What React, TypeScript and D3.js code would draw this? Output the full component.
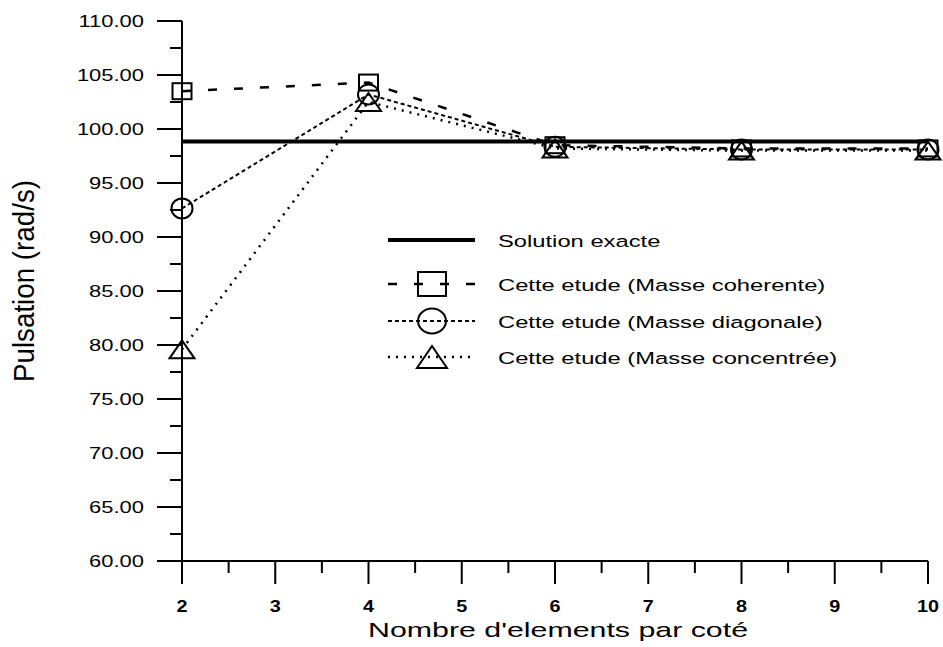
import React from "react";
import * as d3 from "d3";

const xValues = [2, 4, 6, 8, 10];
const exactValue = 98.85;
const coherente = [103.5, 104.3, 98.5, 98.2, 98.2];
const diagonale = [92.65, 103.2, 98.35, 98.1, 98.1];
const concentree = [79.6, 102.5, 98.2, 98.0, 98.0];
const yTicks = [60, 65, 70, 75, 80, 85, 90, 95, 100, 105, 110];
const xTicks = [2, 3, 4, 5, 6, 7, 8, 9, 10];
const legendLabels = [
  "Solution exacte",
  "Cette etude (Masse coherente)",
  "Cette etude (Masse diagonale)",
  "Cette etude (Masse concentrée)",
];

const W = 943;
const H = 647;
const font = "Arial, 'Liberation Sans', sans-serif";
const SX = 1.44;

type MarkerFn = (cx: number, cy: number, k: string, big?: boolean) => React.ReactElement;

export default function App() {
  const x = d3.scaleLinear().domain([2, 10]).range([182, 928]);
  const y = d3.scaleLinear().domain([60, 110]).range([561, 21]);
  const line = d3
    .line<number>()
    .x((_, i) => x(xValues[i]))
    .y((d) => y(d));

  const minorY = d3.range(62.5, 110, 5);
  const minorX = d3.range(2.5, 10, 1);

  const square: MarkerFn = (cx, cy, k, big) => {
    const w = big ? 28 : 19;
    const h = big ? 24 : 16;
    return <rect key={k} x={cx - w / 2} y={cy - h / 2} width={w} height={h} fill="none" stroke="black" strokeWidth={2} />;
  };
  const circle: MarkerFn = (cx, cy, k, big) => (
    <ellipse key={k} cx={cx} cy={cy} rx={big ? 14 : 10.5} ry={big ? 12.5 : 10} fill="none" stroke="black" strokeWidth={2} />
  );
  const tri: MarkerFn = (cx, cy, k, big) => {
    const hw = big ? 15 : 12.5;
    const h = big ? 22 : 18;
    return (
      <path key={k} d={`M${cx},${cy - h / 2}L${cx + hw},${cy + h / 2}L${cx - hw},${cy + h / 2}Z`} fill="none" stroke="black" strokeWidth={2} />
    );
  };

  const series = [
    { data: coherente, dash: "9,17", width: 2.5, marker: square },
    { data: diagonale, dash: "4,3", width: 2, marker: circle },
    { data: concentree, dash: "2,6", width: 2.5, marker: tri },
  ];

  const legendRows = [240, 284, 321, 357];

  return (
    <svg width={W} height={H} style={{ position: "absolute", left: 0, top: 0 }}>
      <rect width={W} height={H} fill="white" />
      {/* axes */}
      <line x1={x(2)} x2={x(2)} y1={y(110)} y2={584} stroke="black" strokeWidth={2} />
      <line x1={x(2)} x2={x(10)} y1={y(60)} y2={y(60)} stroke="black" strokeWidth={2} />
      {yTicks.map((t) => (
        <g key={"y" + t}>
          <line x1={157} x2={x(2)} y1={y(t)} y2={y(t)} stroke="black" strokeWidth={2} />
          <text
            transform={`translate(144,${y(t)}) scale(${1.33},1)`}
            dy="0.35em"
            textAnchor="end"
            fontFamily={font}
            fontSize={16.5}
          >
            {t.toFixed(2)}
          </text>
        </g>
      ))}
      {minorY.map((t) => (
        <line key={"my" + t} x1={170} x2={x(2)} y1={y(t)} y2={y(t)} stroke="black" strokeWidth={2} />
      ))}
      {xTicks.map((t) => (
        <g key={"x" + t}>
          <line x1={x(t)} x2={x(t)} y1={y(60)} y2={584} stroke="black" strokeWidth={2} />
          <text
            transform={`translate(${x(t)},612) scale(1.2,1)`}
            textAnchor="middle"
            fontFamily={font}
            fontSize={16.5}
            fontWeight="bold"
          >
            {t}
          </text>
        </g>
      ))}
      {minorX.map((t) => (
        <line key={"mx" + t} x1={x(t)} x2={x(t)} y1={y(60)} y2={573} stroke="black" strokeWidth={2} />
      ))}
      {/* axis titles */}
      <text
        x={558}
        y={637}
        textAnchor="middle"
        fontFamily={font}
        fontSize={21}
        textLength={380}
        lengthAdjust="spacingAndGlyphs"
      >
        Nombre d'elements par coté
      </text>
      <g transform="translate(34,281) rotate(-90) scale(1,1.2)">
        <text
          x={0}
          y={0}
          textAnchor="middle"
          fontFamily={font}
          fontSize={24}
          textLength={202}
          lengthAdjust="spacingAndGlyphs"
        >
          Pulsation (rad/s)
        </text>
      </g>
      {/* exact solution */}
      <line x1={x(2)} x2={x(10)} y1={y(exactValue)} y2={y(exactValue)} stroke="black" strokeWidth={4} />
      {/* series */}
      {series.map((s, si) => (
        <g key={"s" + si}>
          <path d={line(s.data) || ""} fill="none" stroke="black" strokeWidth={s.width} strokeDasharray={s.dash} />
          {s.data.map((v, i) => s.marker(x(xValues[i]), y(v), `m${si}-${i}`))}
        </g>
      ))}
      {/* legend */}
      <line x1={388} x2={475} y1={legendRows[0]} y2={legendRows[0]} stroke="black" strokeWidth={4} />
      {series.map((s, si) => {
        const ly = legendRows[si + 1];
        return (
          <g key={"l" + si}>
            <line x1={388} x2={475} y1={ly} y2={ly} stroke="black" strokeWidth={s.width} strokeDasharray={s.dash} />
            {s.marker(432, ly, "lm" + si, true)}
          </g>
        );
      })}
      {legendLabels.map((lab, i) => (
        <text
          key={lab}
          transform={`translate(498,${legendRows[i] + 1}) scale(${SX},1)`}
          dy="0.35em"
          fontFamily={font}
          fontSize={16.5}
        >
          {lab}
        </text>
      ))}
    </svg>
  );
}
